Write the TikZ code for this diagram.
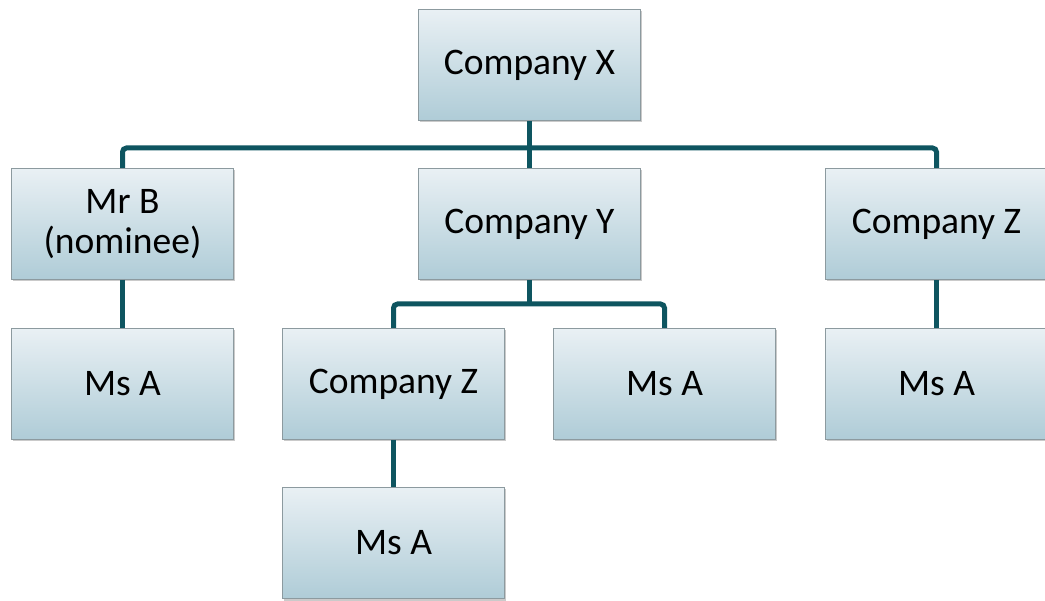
\documentclass[tikz,border=0pt]{standalone}
\usepackage{fontspec}
\setmainfont{Carlito}
\usetikzlibrary{shadows}
\definecolor{conncol}{HTML}{0E5560}
\definecolor{boxtop}{HTML}{E9F0F4}
\definecolor{boxbot}{HTML}{AFCCD7}
\definecolor{boxline}{HTML}{8C9A9F}
\tikzset{
  orgbox/.style={rectangle, draw=boxline, line width=1pt, top color=boxtop, bottom color=boxbot,
    minimum width=222pt, minimum height=111pt, inner sep=0pt, align=center,
    font=\fontsize{37.5}{40}\selectfont,
    drop shadow={shadow xshift=1.5pt, shadow yshift=-2pt, opacity=0.35, fill=black!60}},
  conn/.style={draw=conncol, line width=5pt, rounded corners=4pt}
}
\begin{document}
\begin{tikzpicture}[x=1pt,y=1pt]
\useasboundingbox (0,0) rectangle (1045,-601);
\clip (0,0) rectangle (1045,-601);
% nodes
\node[orgbox] (cx)  at (529.5,-65) {Company X};
\node[orgbox] (mrb) at (122.5,-224) {Mr B\\(nominee)};
\node[orgbox] (cy)  at (529.5,-224) {Company Y};
\node[orgbox] (cz1) at (936.5,-224) {Company Z};
\node[orgbox] (ma1) at (122.5,-384) {Ms A};
\node[orgbox] (cz2) at (393.5,-384) {Company Z};
\node[orgbox] (ma2) at (664.5,-384) {Ms A};
\node[orgbox] (ma3) at (936.5,-384) {Ms A};
\node[orgbox] (ma4) at (393.5,-543) {Ms A};
\coordinate (bus1) at (529.5,-148);
\coordinate (bus2) at (529.5,-304);
% connectors
\draw[conn] (mrb.north) |- (bus1) -| (cz1.north);
\draw[conn] (cx.south) -- (cy.north);
\draw[conn] (cz2.north) |- (bus2) -| (ma2.north);
\draw[conn] (cy.south) -- (bus2);
\draw[conn] (mrb.south) -- (ma1.north);
\draw[conn] (cz1.south) -- (ma3.north);
\draw[conn] (cz2.south) -- (ma4.north);
\end{tikzpicture}
\end{document}
